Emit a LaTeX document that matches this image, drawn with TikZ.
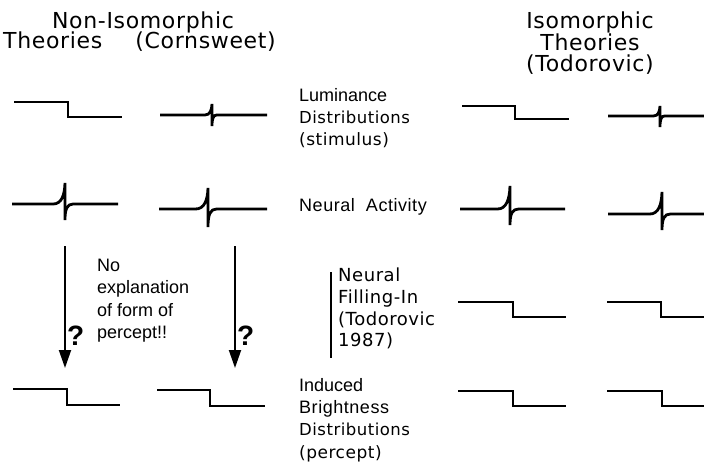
\documentclass[tikz,border=0pt]{standalone}
\usepackage{fontspec}
\setmainfont{Liberation Sans}
\newfontfamily\gen[LetterSpace=3]{DejaVu Sans}
\newfontfamily\lsp[LetterSpace=3]{Liberation Sans}
\usetikzlibrary{arrows.meta}

\newcommand\stepcurve[5]{% x0 xm x1 yhigh ylow
  \draw[curve] (#1,#4) -- (#2,#4) -- (#2,#5) -- (#3,#5);}
\newcommand\spikecurve[6]{% xL xs xR y0 top bot
  \draw[curve] (#1,#4) -- ({#2-(#6-#5)*0.32},#4)
    .. controls ({#2-(#6-#5)*0.1},#4) and ({#2-(#6-#5)*0.01},{#4-(#4-#5)*0.4}) .. (#2,#5)
    -- (#2,#6)
    .. controls (#2,{#4+(#6-#4)*0.3}) and ({#2+(#6-#5)*0.06},#4) .. ({#2+(#6-#5)*0.22},#4)
    -- (#3,#4);}

\tikzset{
  curve/.style={line width=2.8pt, line join=miter},
  lbl/.style={anchor=north west, inner sep=0pt, align=left, font=\fontsize{18}{22.3}\selectfont},
  glbl/.style={anchor=north west, inner sep=0pt, align=left, font=\gen\fontsize{18}{21.7}\selectfont},
  ttl/.style={inner sep=0pt, font=\gen\fontsize{22}{21.5}\selectfont},
  qmark/.style={anchor=base west, inner sep=0pt, font=\bfseries\fontsize{28}{28}\selectfont},
  downarrow/.style={line width=1.9pt, -{Triangle[length=18pt,width=12pt]}},
  bar/.style={line width=1.6pt}
}

\begin{document}
\begin{tikzpicture}[x=1pt,y=-1pt]
\useasboundingbox (0,0) rectangle (704,468);
\fill[white] (0,0) rectangle (704,468);

% titles
\node[ttl, anchor=north] (t1) at (143,12) {Non-Isomorphic};
\node[ttl, anchor=north west] (t2) at (3,32) {Theories};
\node[ttl, anchor=north east] (t3) at (276,32) {(Cornsweet)};
\node[ttl, anchor=north, align=center] (t4) at (590,12) {Isomorphic\\Theories\\(Todorovic)};

% row labels
\node[lbl] (l1) at (299,88) {Luminance\\{\gen\fontsize{16.5}{22.3}\selectfont Distributions}\\{\gen\fontsize{17}{22.3}\selectfont(stimulus)}};
\node[lbl] (l2) at (299,198) {{\lsp Neural\ \ Activity}};
\node[glbl] (l3) at (338,268) {Neural\\Filling-In\\(Todorovic\\1987)};
\node[lbl] (l4) at (299,378) {Induced\\{\lsp Brightness}\\{\gen\fontsize{16.5}{22.3}\selectfont Distributions}\\{\gen\fontsize{17}{22.3}\selectfont(percept)}};
\node[lbl] (l5) at (97,259) {No\\explanation\\of form of\\percept!!};

% bar next to filling-in
\coordinate (b1) at (331,272);
\coordinate (b2) at (331,358);
\draw[bar] (b1) -- (b2);

% arrows with question marks
\coordinate (a1s) at (65,246);
\coordinate (a1e) at (65,368);
\coordinate (a2s) at (235,246);
\coordinate (a2e) at (235,368);
\draw[downarrow] (a1s) -- (a1e);
\draw[downarrow] (a2s) -- (a2e);
\node[qmark] (q1) at (67,345) {?};
\node[qmark] (q2) at (237,345) {?};

% row 1: luminance
\stepcurve{14}{68}{122}{102}{117}
\spikecurve{160}{212}{267}{115}{104}{126}
\stepcurve{462}{515}{569}{106}{119}
\spikecurve{608}{660}{704}{116}{106}{127}

% row 2: neural activity
\spikecurve{12}{65}{118}{204}{183}{220}
\spikecurve{159}{208}{267}{209}{188}{227}
\spikecurve{460}{510}{565}{209}{186}{225}
\spikecurve{608}{662}{704}{214}{192}{230}

% row 3: filling-in
\stepcurve{458}{513}{566}{302}{317}
\stepcurve{607}{661}{704}{302}{317}

% row 4: brightness
\stepcurve{13}{67}{120}{389}{405}
\stepcurve{157}{210}{265}{390}{406}
\stepcurve{458}{513}{566}{391}{406}
\stepcurve{607}{662}{704}{391}{406}
\end{tikzpicture}
\end{document}
